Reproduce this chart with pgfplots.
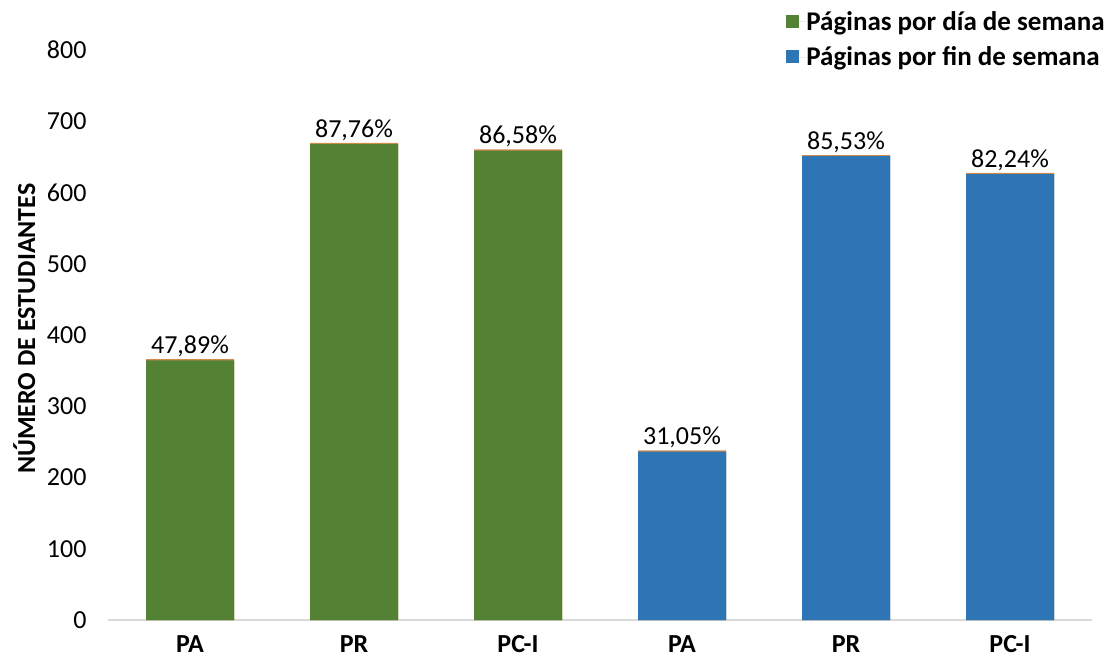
\documentclass[border=0pt]{standalone}
\usepackage{pgfplots}
\pgfplotsset{compat=1.18}
\usepackage{fontspec}
\setmainfont{Carlito}
\definecolor{cgreen}{HTML}{548235}
\definecolor{cblue}{HTML}{2E75B6}
\definecolor{corange}{HTML}{D08A4A}
\definecolor{caxis}{HTML}{D9D9D9}
\begin{document}
\begin{tikzpicture}[x=1pt,y=1pt]
\useasboundingbox (0,0) rectangle (1113,664);
\begin{axis}[
  at={(108pt,44pt)}, anchor=south west,
  scale only axis, width=984pt, height=570pt,
  xmin=-0.5, xmax=5.5, ymin=0, ymax=800,
  ybar, bar width=88pt, bar shift=0pt,
  axis x line*=bottom, axis y line*=left,
  x axis line style={draw=caxis, line width=1.2pt, -},
  y axis line style={draw=none},
  major tick length=0pt,
  xtick={0,1,2,3,4,5},
  xticklabels={PA,PR,PC-I,PA,PR,PC-I},
  xticklabel style={font=\fontsize{26}{30}\selectfont\bfseries, yshift=-12pt},
  ytick={0,100,...,800},
  yticklabel style={font=\fontsize{26}{30}\selectfont, xshift=-18pt},
  /pgf/number format/assume math mode=true,
  ylabel={NÚMERO DE ESTUDIANTES},
  ylabel style={font=\fontsize{26}{30}\selectfont\bfseries, at={(axis description cs:-0.085,0.511)}, anchor=center},
  nodes near coords style={font=\fontsize{26}{30}\selectfont, black, yshift=0pt},
  legend style={draw=none, fill=none, at={(rel axis cs:1.013,1.068)}, anchor=north east,
    font=\fontsize{27}{32}\selectfont\bfseries, row sep=15pt, inner sep=0pt,
    nodes={inner xsep=0pt, inner ysep=0pt},
    legend cell align=left},
  legend image code/.code={\fill[#1] (-7pt,-6pt) rectangle (6pt,7pt); \path (0pt,0pt) -- (13pt,0pt);},
  clip=false,
]
\addplot[fill=cgreen, draw=none, point meta=explicit symbolic, nodes near coords]
  coordinates {(0,364.4) [47,89\%] (1,667.9) [87,76\%] (2,658.9) [86,58\%]};
\addlegendentry{Páginas por día de semana}
\addplot[fill=cblue, draw=none, point meta=explicit symbolic, nodes near coords]
  coordinates {(3,236.3) [31,05\%] (4,650.9) [85,53\%] (5,625.8) [82,24\%]};
\addlegendentry{Páginas por fin de semana}
\addplot[fill=corange, draw=none, forget plot]
  coordinates {(0,366.0) (1,669.5) (2,660.5) (3,237.9) (4,652.5) (5,627.4)};
\addplot[fill=cgreen, draw=none, forget plot]
  coordinates {(0,364.4) (1,667.9) (2,658.9)};
\addplot[fill=cblue, draw=none, forget plot]
  coordinates {(3,236.3) (4,650.9) (5,625.8)};
\end{axis}
\end{tikzpicture}
\end{document}
